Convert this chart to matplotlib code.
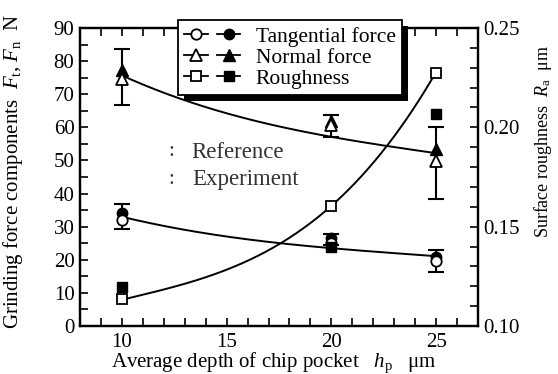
import numpy as np
import matplotlib
matplotlib.use("Agg")
import matplotlib.pyplot as plt
from matplotlib.lines import Line2D
from matplotlib.legend_handler import HandlerTuple
from matplotlib.patches import Rectangle
from matplotlib.transforms import IdentityTransform

plt.rcParams['font.family'] = ['Liberation Serif', 'DejaVu Serif']
plt.rcParams['mathtext.fontset'] = 'custom'
plt.rcParams['mathtext.rm'] = 'Liberation Serif'
plt.rcParams['mathtext.it'] = 'Liberation Serif:italic'

# ---------------- data ----------------
depth = [10, 20, 25]

tang_ref = [32.0, 25.0, 19.6]
tang_exp = [34.2, 26.5, 20.9]
tang_err_lo = [29.4, 24.5, 16.4]
tang_err_hi = [36.8, 27.7, 23.1]

norm_ref = [74.5, 60.7, 49.7]
norm_exp = [77.3, 62.0, 53.5]
norm_err_lo = [66.7, 57.1, 38.5]
norm_err_hi = [83.6, 63.7, 60.0]

rough_ref = [0.1138, 0.1605, 0.2273]
rough_exp = [0.1197, 0.1400, 0.2067]

# trend curves
curve_x = [10, 12.5, 15, 17.5, 20, 22.5, 25]
tang_curve = [33.0, 29.6, 27.0, 25.1, 23.5, 22.2, 21.1]
norm_curve = [75.7, 69.2, 64.3, 60.3, 57.1, 54.5, 52.2]
rough_curve = [0.1133, 0.1195, 0.1283, 0.1415, 0.1605, 0.1883, 0.2280]

xticks = [10, 15, 20, 25]
yticks_left = [0, 10, 20, 30, 40, 50, 60, 70, 80, 90]
yticks_right = [0.10, 0.15, 0.20, 0.25]

# ---------------- figure ----------------
fig = plt.figure(figsize=(5.58, 3.74), dpi=100)
ax = fig.add_axes([80/558, 1-326/374, 398/558, 298/374])
ax2 = ax.twinx()

FS = 15

def smooth(xs, ys, deg=3):
    c = np.polyfit(xs, ys, deg)
    xx = np.linspace(min(xs), max(xs), 200)
    return xx, np.polyval(c, xx)

lw_curve = 1.4
ax.plot(*smooth(curve_x, tang_curve), color='k', lw=lw_curve, zorder=2)
ax.plot(*smooth(curve_x, norm_curve), color='k', lw=lw_curve, zorder=2)
ax2.plot(*smooth(curve_x, rough_curve), color='k', lw=lw_curve, zorder=2)

ebkw = dict(fmt='none', ecolor='k', elinewidth=1.5, capsize=6, capthick=1.5, zorder=3)
t_exp = np.array(tang_exp)
n_exp = np.array(norm_exp)
ax.errorbar(depth, tang_exp, yerr=[t_exp - np.array(tang_err_lo), np.array(tang_err_hi) - t_exp], **ebkw)
ax.errorbar(depth, norm_exp, yerr=[n_exp - np.array(norm_err_lo), np.array(norm_err_hi) - n_exp], **ebkw)

ms = 7.5
ax.plot(depth, tang_exp, 'o', color='k', ms=ms, zorder=4)
ax.plot(depth, norm_exp, '^', color='k', ms=ms+1, zorder=4)
ax.plot(depth, tang_ref, 'o', mfc='white', mec='k', mew=1.3, ms=ms, zorder=5)
ax.plot(depth, norm_ref, '^', mfc='white', mec='k', mew=1.3, ms=ms+1, zorder=5)
ax2.plot(depth, rough_exp, 's', color='k', ms=ms, zorder=4)
ax2.plot(depth, rough_ref, 's', mfc='white', mec='k', mew=1.3, ms=ms, zorder=5)

# ---------------- axes styling ----------------
ax.set_xlim(8, 27)
ax.set_ylim(0, 90)
ax2.set_ylim(0.10, 0.25)
ax.set_xticks(xticks)
ax.set_xticks(np.arange(8, 28, 1), minor=True)
ax.set_yticks(yticks_left)
ax.set_yticks(np.arange(0, 91, 5), minor=True)
ax2.set_yticks(yticks_right)
ax2.set_yticks(np.arange(0.10, 0.2501, 0.01), minor=True)
ax2.set_yticklabels(['0.10', '0.15', '0.20', '0.25'])

for a in (ax, ax2):
    for s in a.spines.values():
        s.set_linewidth(1.6)
ax.tick_params(which='both', direction='in', length=6, width=1.2, top=True, right=False,
               labelsize=FS)
ax.tick_params(axis='x', which='major', pad=5)
ax.tick_params(axis='y', which='major', pad=4)
ax2.tick_params(which='both', direction='in', length=6, width=1.2, labelsize=FS, pad=4)

ax.set_xlabel(r'Average depth of chip pocket   $h_\mathrm{p}$   μm', fontsize=FS)
ax.xaxis.set_label_coords(0.487, -0.083)
ax.set_ylabel(r'Grinding force components  $F_\mathrm{t}$, $F_\mathrm{n}$  N', fontsize=FS)
ax.yaxis.set_label_coords(-0.138, 0.518)
ax2.set_ylabel(r'Surface roughness  $R_\mathrm{a}$  μm', fontsize=13)
ax2.yaxis.set_label_coords(1.135, 0.62)

# ---------------- legend ----------------
def h(marker, filled):
    size = ms if marker != '^' else ms + 1
    if filled:
        return Line2D([], [], color='k', lw=1.3, marker=marker, ms=size, mfc='k', mec='k')
    return Line2D([], [], color='k', lw=1.3, marker=marker, ms=size,
                  mfc='white', mec='k', mew=1.3)

handles = [(h('o', False), h('o', True)),
           (h('^', False), h('^', True)),
           (h('s', False), h('s', True))]
labels = ['Tangential force', 'Normal force', 'Roughness']
leg = ax2.legend(handles, labels, handler_map={tuple: HandlerTuple(ndivide=None, pad=0.4)},
                 loc='upper left', bbox_to_anchor=(178/558, 1-20/374),
                 bbox_transform=fig.transFigure, borderaxespad=0,
                 prop={'family': ['Liberation Serif', 'DejaVu Serif'], 'size': 15.5},
                 frameon=True, fancybox=False, framealpha=1,
                 edgecolor='k', handlelength=2.6, handletextpad=0.7,
                 labelspacing=0.05, borderpad=0.3)
leg.get_frame().set_linewidth(1.3)
leg.set_zorder(10)

fig.canvas.draw()
bb = leg.get_window_extent()
shadow = Rectangle((bb.x0 + 6, bb.y0 - 6), bb.width, bb.height, transform=IdentityTransform(),
                   facecolor='k', edgecolor='none', zorder=9, clip_on=False)
ax2.add_artist(shadow)

# ---------------- annotation ----------------
ax.text(168, 374-152, ':', transform=IdentityTransform(), fontsize=FS, color='#333333',
        va='center', ha='left')
ax.text(191, 374-152, 'Reference', transform=IdentityTransform(), fontsize=FS+1.5, color='#333333',
        va='center', ha='left')
ax.text(168, 374-180, ':', transform=IdentityTransform(), fontsize=FS, color='#333333',
        va='center', ha='left')
ax.text(192, 374-180, 'Experiment', transform=IdentityTransform(), fontsize=FS+1.5, color='#333333',
        va='center', ha='left')

fig.savefig('out.png', dpi=100)
